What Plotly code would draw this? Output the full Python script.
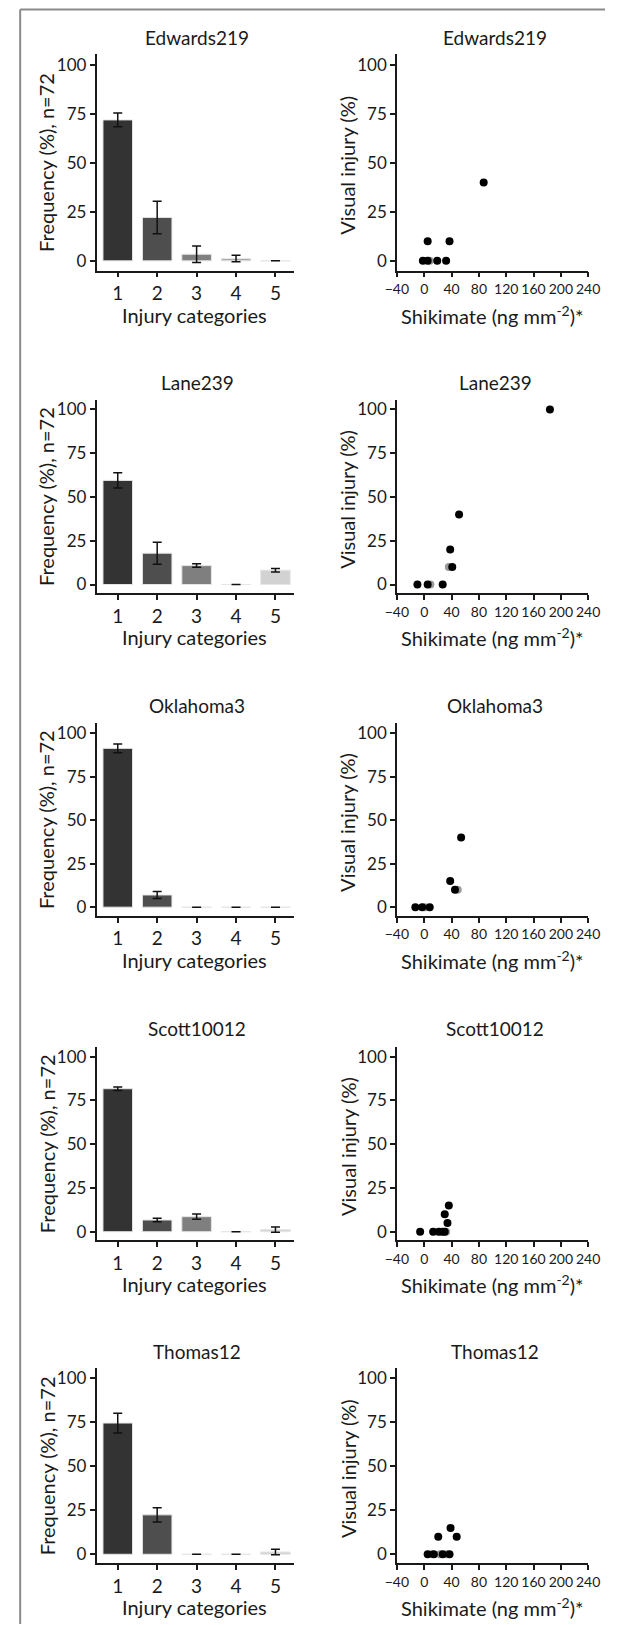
import plotly.graph_objects as go

W, H = 617, 1625

# ---------------- data ----------------
cultivars = ["Edwards219", "Lane239", "Oklahoma3", "Scott10012", "Thomas12"]
categories = [1, 2, 3, 4, 5]
bar_tick_labels = ["1", "2", "3", "4", "5"]
shik_ticks = [-40, 0, 40, 80, 120, 160, 200, 240]
freq_ticks = [0, 25, 50, 75, 100]

edwards_freq = [72.0, 22.2, 3.4, 1.2, 0.0]
edwards_err = [3.5, 8.3, 4.2, 1.7, 0.0]
lane_freq = [59.5, 17.9, 10.8, 0.0, 8.2]
lane_err = [4.3, 6.3, 1.0, 0.0, 1.0]
oklahoma_freq = [91.2, 7.0, 0.0, 0.0, 0.0]
oklahoma_err = [2.5, 2.0, 0.0, 0.0, 0.0]
scott_freq = [81.7, 6.7, 8.6, 0.0, 1.2]
scott_err = [1.0, 1.0, 1.5, 0.0, 1.5]
thomas_freq = [74.6, 22.4, 0.0, 0.0, 1.3]
thomas_err = [5.6, 4.0, 0.0, 0.0, 1.5]

edwards_shik = [-2, 5, 19, 32, 5, 37, 87]
edwards_inj = [0, 0, 0, 0, 10, 10, 40]
edwards_shik_grey = [8]
edwards_inj_grey = [0]

lane_shik = [-10, 5, 27, 38, 41, 51, 184]
lane_inj = [0, 0, 0, 20, 10, 40, 100]
lane_shik_grey = [9, 36]
lane_inj_grey = [0, 10]

oklahoma_shik = [-13, -3, 8, 38, 45, 54]
oklahoma_inj = [0, 0, 0, 15, 10, 40]
oklahoma_shik_grey = [1, 49]
oklahoma_inj_grey = [0, 10]

scott_shik = [-6, 13, 22, 27, 30, 30, 34, 36]
scott_inj = [0, 0, 0, 0, 0, 10, 5, 15]
scott_shik_grey = [19, 32]
scott_inj_grey = [0, 0]

thomas_shik = [5, 14, 27, 37, 20.5, 38.5, 47.5]
thomas_inj = [0, 0, 0, 0, 10, 15, 10]
thomas_shik_grey = [11, 23, 33]
thomas_inj_grey = [0, 0, 0]

freqs = [edwards_freq, lane_freq, oklahoma_freq, scott_freq, thomas_freq]
errs = [edwards_err, lane_err, oklahoma_err, scott_err, thomas_err]
shiks = [edwards_shik, lane_shik, oklahoma_shik, scott_shik, thomas_shik]
injs = [edwards_inj, lane_inj, oklahoma_inj, scott_inj, thomas_inj]
shiks_grey = [edwards_shik_grey, lane_shik_grey, oklahoma_shik_grey, scott_shik_grey, thomas_shik_grey]
injs_grey = [edwards_inj_grey, lane_inj_grey, oklahoma_inj_grey, scott_inj_grey, thomas_inj_grey]

# ---------------- styling / layout ----------------
bar_colors = ["#333333", "#4e4e4e", "#7f7f7f", "#aaaaaa", "#d2d2d2"]
FONT = "Lato"
TXT = "#1a1a1a"
Y_TICK_SIZE = 17
BAR_X_TICK_SIZE = 19
SC_TICK_SIZE = 14
TITLE_SIZE = 19
AXT_SIZE = 20

row_px = [(53, 270), (399, 593), (723, 916), (1047, 1241), (1369, 1564)]
title_px = [37, 382, 705, 1029, 1352]
bar_x_px = (88, 293)
sc_x_px = (400.5, 599.5)


def fx(p):
    return p / W


def fy(p):
    return 1 - p / H


fig = go.Figure()
annotations = []
layout_axes = {}


def ref(n):
    return ("x" if n == 1 else f"x{n}"), ("y" if n == 1 else f"y{n}")


for i, name in enumerate(cultivars):
    top, bot = row_px[i]
    nb = 2 * i + 1
    ns = 2 * i + 2
    xb, yb = ref(nb)
    xs, ys = ref(ns)

    fig.add_trace(go.Bar(
        x=categories, y=freqs[i], width=0.75,
        marker=dict(color=bar_colors, line=dict(color="#e6e6e6", width=1)),
        error_y=dict(type="data", array=errs[i], visible=True,
                     color="#111111", thickness=1.5, width=4.5),
        xaxis=xb, yaxis=yb, showlegend=False,
    ))
    fig.add_trace(go.Scatter(
        x=shiks_grey[i], y=injs_grey[i], mode="markers",
        marker=dict(color="#9a9a9a", size=8),
        xaxis=xs, yaxis=ys, showlegend=False, cliponaxis=False,
    ))
    fig.add_trace(go.Scatter(
        x=shiks[i], y=injs[i], mode="markers",
        marker=dict(color="#000000", size=8),
        xaxis=xs, yaxis=ys, showlegend=False, cliponaxis=False,
    ))

    common = dict(showgrid=False, zeroline=False, showline=True,
                  linecolor="#1a1a1a", linewidth=1.5, ticks="outside",
                  ticklen=5, tickwidth=1.5, tickcolor="#1a1a1a",
                  fixedrange=True, tickangle=0)
    ydom = [fy(bot), fy(top)]
    kx = "xaxis" if nb == 1 else f"xaxis{nb}"
    ky = "yaxis" if nb == 1 else f"yaxis{nb}"
    yfont = dict(family=FONT, size=Y_TICK_SIZE, color=TXT)
    layout_axes[kx] = dict(common, domain=[fx(bar_x_px[0]), fx(bar_x_px[1])],
                           range=[0.463, 5.46], tickvals=categories,
                           ticktext=bar_tick_labels, anchor=yb,
                           tickfont=dict(family=FONT, size=BAR_X_TICK_SIZE, color=TXT))
    layout_axes[ky] = dict(common, domain=ydom, range=[-5, 105.7],
                           tickvals=freq_ticks, anchor=xb, tickfont=yfont)
    layout_axes[f"xaxis{ns}"] = dict(common, domain=[fx(sc_x_px[0]), fx(sc_x_px[1])],
                                     range=[-40, 240], tickvals=shik_ticks, anchor=ys,
                                     tickfont=dict(family=FONT, size=SC_TICK_SIZE, color=TXT))
    layout_axes[f"yaxis{ns}"] = dict(common, domain=ydom, range=[-5, 105.7],
                                     tickvals=freq_ticks, anchor=xs, tickfont=yfont)

    tfont = dict(family=FONT, size=TITLE_SIZE, color=TXT)
    afont = dict(family=FONT, size=AXT_SIZE, color=TXT)
    annotations += [
        dict(text=name, x=fx(193), y=fy(title_px[i]), xref="paper", yref="paper",
             showarrow=False, font=tfont, xanchor="center", yanchor="middle"),
        dict(text=name, x=fx(503), y=fy(title_px[i]), xref="paper", yref="paper",
             showarrow=False, font=tfont, xanchor="center", yanchor="middle"),
        dict(text="Injury categories", x=fx(190), y=fy(bot + 44), xref="paper", yref="paper",
             showarrow=False, font=afont, xanchor="center", yanchor="middle"),
        dict(text="Shikimate (ng mm<sup>-2</sup>)*", x=fx(500), y=fy(bot + 44),
             xref="paper", yref="paper", showarrow=False, font=afont,
             xanchor="center", yanchor="middle"),
        dict(text="Frequency (%), n=72", x=fx(36), y=fy((top + bot) / 2), xref="paper",
             yref="paper", showarrow=False, font=afont, textangle=-90,
             xanchor="center", yanchor="middle"),
        dict(text="Visual injury (%)", x=fx(349), y=fy((top + bot) / 2 + 3), xref="paper",
             yref="paper", showarrow=False, font=afont, textangle=-90,
             xanchor="center", yanchor="middle"),
    ]

shapes = [
    dict(type="line", xref="paper", yref="paper", x0=fx(8.5), x1=1.0,
         y0=fy(8.5), y1=fy(8.5), line=dict(color="#8a8a8a", width=2)),
    dict(type="line", xref="paper", yref="paper", x0=fx(8.5), x1=fx(8.5),
         y0=fy(8.5), y1=0.0, line=dict(color="#8a8a8a", width=2)),
]

fig.update_layout(
    width=W, height=H,
    margin=dict(l=0, r=0, t=0, b=0),
    paper_bgcolor="white", plot_bgcolor="white",
    font=dict(family=FONT, color=TXT),
    annotations=annotations, shapes=shapes,
    bargap=0.25, showlegend=False,
    **layout_axes,
)

fig.write_html("out.html")
